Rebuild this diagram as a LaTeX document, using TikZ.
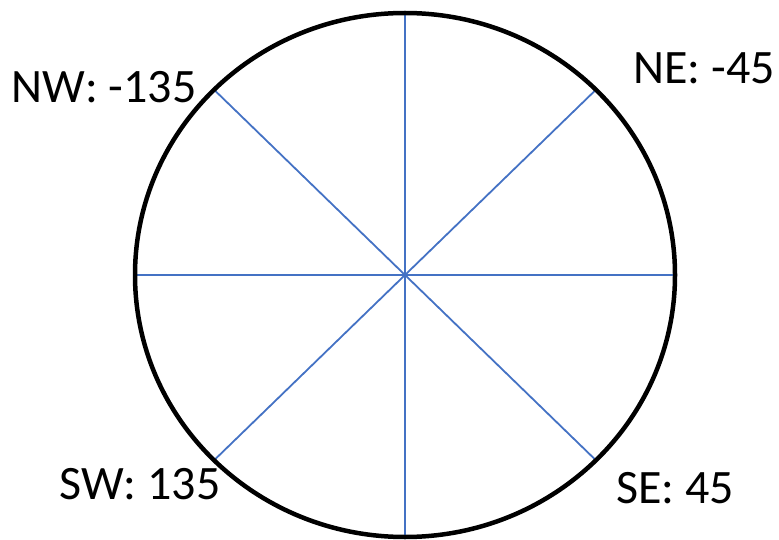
\documentclass[tikz,border=0pt]{standalone}
\usepackage{fontspec}
\setmainfont{Carlito}
\usepackage{tikz}
\usetikzlibrary{calc}
\definecolor{spokeblue}{HTML}{4472C4}
\tikzset{
  rim/.style={draw=black, line width=4.5pt},
  spoke/.style={draw=spokeblue, line width=1.8pt},
  dirlabel/.style={font=\fontsize{48}{56}\selectfont, inner sep=0pt, text depth=0pt}
}

\begin{document}
\begin{tikzpicture}[x=1pt, y=-1pt]
  \useasboundingbox (0,0) rectangle (779,540);

  \coordinate (ctr) at (405,275);
  \foreach \a in {0,45,...,315}
    \coordinate (rim\a) at ($(ctr)+(\a:270 and 262)$);

  % spokes
  \foreach \a in {0,45,...,315}
    \draw[spoke] (ctr) -- (rim\a);

  % outer ring
  \draw[rim] (ctr) ellipse [x radius=270, y radius=262];

  % compass labels
  \node[dirlabel] (nw) at (104,87) {NW: -135};
  \node[dirlabel] (ne) at (704,68) {NE: -45};
  \node[dirlabel] (sw) at (140,484) {SW: 135};
  \node[dirlabel] (se) at (675,488) {SE: 45};
\end{tikzpicture}
\end{document}
